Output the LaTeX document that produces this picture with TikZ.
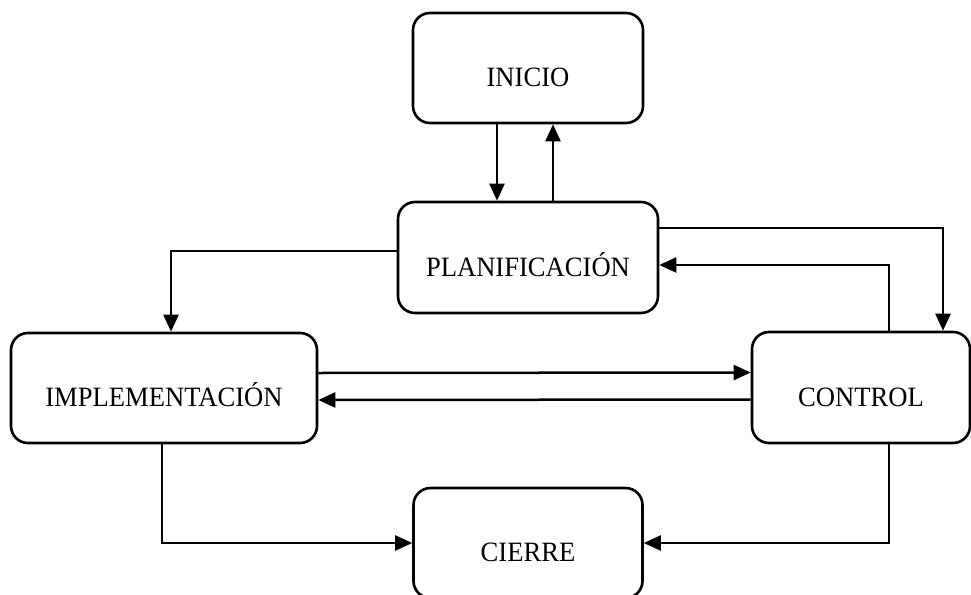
\documentclass[tikz,border=0pt]{standalone}
\usepackage{fontspec}
\setmainfont{Liberation Serif}[FakeStretch=0.95]
\usetikzlibrary{arrows.meta}
\begin{document}
\begin{tikzpicture}[x=1pt,y=-1pt,
  phase/.style={draw=black, line width=2.6pt, rounded corners=17pt,
    inner sep=0pt, text height=37pt, text depth=0pt, align=center,
    font=\fontsize{28}{30}\selectfont},
  link/.style={draw=black, line width=2.5pt,
    -{Triangle[length=17pt,width=15pt]}}]
  \useasboundingbox (0,0) rectangle (971,594);

  % phase boxes
  \node[phase, minimum width=230pt, minimum height=110pt] (ini)  at (528,68)    {INICIO};
  \node[phase, minimum width=260pt, minimum height=111pt] (plan) at (528,257.5) {PLANIFICACIÓN};
  \node[phase, minimum width=306pt, minimum height=110pt] (impl) at (164,388)   {IMPLEMENTACIÓN};
  \node[phase, minimum width=218pt, minimum height=111pt] (ctrl) at (861,387.5) {CONTROL};
  \node[phase, minimum width=229pt, minimum height=110pt] (cie)  at (528,543)   {CIERRE};

  % start <-> planning
  \draw[link] ([xshift=-31pt]ini.south) -- ([xshift=-31pt]plan.north);
  \draw[link] ([xshift=25pt]plan.north) -- ([xshift=25pt]ini.south);

  % planning -> implementation / control, and control feedback
  \draw[link] ([yshift=6.5pt]plan.west) -| ([xshift=7pt]impl.north);
  \draw[link] ([yshift=29.5pt]plan.east) -| ([xshift=82pt]ctrl.north);
  \draw[link] ([xshift=28pt]ctrl.north) |- ([yshift=-7.5pt]plan.east);

  % implementation <-> control
  \draw[link] ([yshift=15pt]impl.east) -- ([yshift=15pt]ctrl.west);
  \draw[link] ([yshift=-12pt]ctrl.west) -- ([yshift=-12pt]impl.east);

  % closing
  \draw[link] ([xshift=-2pt]impl.south) |- (cie.west);
  \draw[link] ([xshift=28pt]ctrl.south) |- (cie.east);
\end{tikzpicture}
\end{document}
